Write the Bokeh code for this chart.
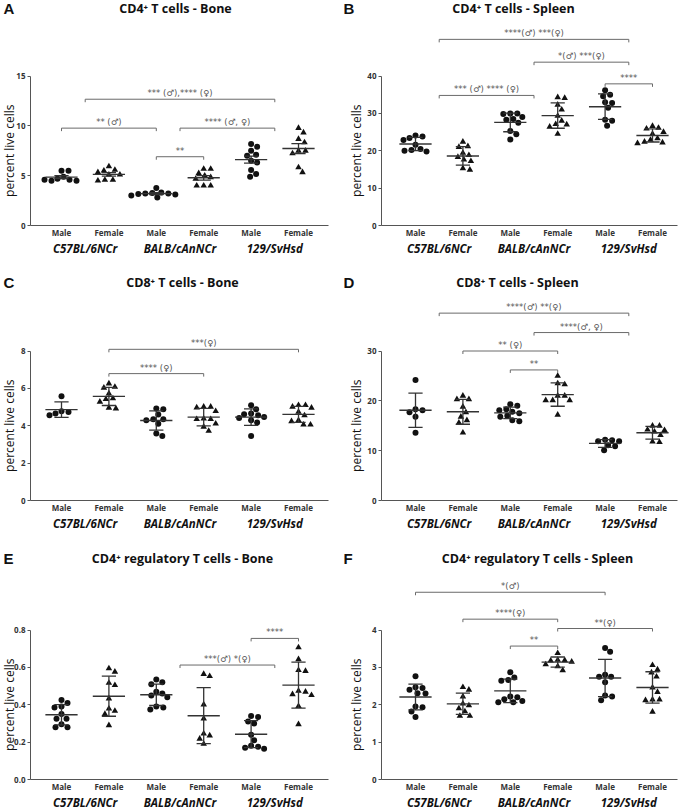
import math
import numpy as np
from bokeh.plotting import figure
from bokeh.models import FixedTicker, Range1d, NumeralTickFormatter
from bokeh.layouts import column, row
from bokeh.embed import file_html
from bokeh.resources import INLINE
from bokeh.core.properties import value

# ---------------- data ----------------
sex_labels = ["Male", "Female", "Male", "Female", "Male", "Female"]
strain_labels = ["C57BL/6NCr", "BALB/cAnNCr", "129/SvHsd"]
strain_pos = [1.5, 3.5, 5.5]
y_title = "percent live cells"

A_title = "CD4\u207a T cells - Bone"
A_ticks = [0, 5, 10, 15]
A_values = [
    [5.5, 5.5, 4.9, 4.7, 4.6, 4.5, 4.5, 4.6],
    [5.93, 5.57, 5.5, 5.33, 5.1, 5.1, 4.57, 4.57, 4.5],
    [3.77, 3.3, 3.25, 3.2, 3.2, 3.15, 3.1, 3.0, 2.8],
    [5.67, 5.67, 5.23, 5.0, 4.83, 4.67, 4.0, 4.0, 4.0],
    [8.17, 7.9, 7.5, 7.1, 7.0, 6.5, 6.33, 5.57, 5.17, 4.9],
    [9.77, 9.33, 8.67, 8.33, 7.5, 7.5, 7.23, 5.83, 5.33],
]
A_brackets = [(1.5, 5.5, 12.67, "*** (\u2642),**** (\u2640)"),
              (1, 3, 9.77, "** (\u2642)"),
              (3.5, 5.5, 9.77, "**** (\u2642, \u2640)"),
              (3, 4, 6.9, "**")]

B_title = "CD4\u207a T cells - Spleen"
B_ticks = [0, 10, 20, 30, 40]
B_values = [
    [24.1, 23.8, 23.4, 22.9, 21.6, 20.5, 20.2, 19.8, 20.0],
    [22.4, 21.2, 21.0, 19.4, 18.8, 18.3, 17.6, 17.2, 15.3, 14.9],
    [30.0, 30.0, 29.8, 29.0, 28.5, 28.3, 27.5, 25.3, 24.4, 23.0],
    [34.3, 34.1, 32.3, 31.0, 29.3, 28.0, 27.1, 27.0, 26.4, 24.5],
    [36.2, 35.0, 34.6, 33.0, 32.8, 31.5, 28.3, 28.0, 26.7],
    [26.6, 26.1, 25.9, 25.0, 24.5, 23.3, 22.9, 22.4, 22.2, 22.0],
]
B_brackets = [(1.5, 5.5, 49.8, "****(\u2642) ***(\u2640)"),
              (3.5, 5.5, 43.7, "*(\u2642) ***(\u2640)"),
              (1.5, 3.5, 34.8, "*** (\u2642) **** (\u2640)"),
              (5, 6, 37.9, "****")]

C_title = "CD8\u207a T cells - Bone"
C_ticks = [0, 2, 4, 6, 8]
C_values = [
    [5.58, 4.78, 4.74, 4.65, 4.56],
    [6.26, 6.08, 6.03, 5.72, 5.46, 5.42, 5.28, 4.96, 4.92],
    [4.92, 4.88, 4.6, 4.35, 4.35, 4.3, 4.11, 3.58, 3.45],
    [5.01, 5.01, 4.97, 4.78, 4.38, 4.35, 4.35, 4.11, 3.94, 3.72],
    [5.1, 4.88, 4.65, 4.62, 4.56, 4.47, 4.42, 4.29, 4.17, 3.45],
    [5.1, 5.1, 5.01, 4.96, 4.74, 4.55, 4.29, 4.24, 4.06, 4.06],
]
C_brackets = [(2, 6, 8.09, "***(\u2640)"),
              (2, 4, 6.79, "**** (\u2640)")]

D_title = "CD8\u207a T cells - Spleen"
D_ticks = [0, 10, 20, 30]
D_values = [
    [24.2, 18.3, 18.1, 17.7, 16.8, 13.6],
    [21.0, 20.3, 20.3, 18.8, 17.7, 16.8, 16.1, 15.6, 13.6],
    [19.3, 19.0, 18.3, 18.1, 17.8, 17.5, 17.0, 16.8, 16.1, 15.9],
    [25.0, 23.5, 23.3, 21.0, 21.0, 20.1, 20.1, 20.1, 17.2],
    [12.2, 12.1, 11.9, 11.9, 11.1, 10.9, 10.1],
    [15.0, 15.0, 14.2, 14.1, 13.8, 13.1, 11.8, 11.7],
]
D_brackets = [(1.5, 5.5, 37.6, "****(\u2642) **(\u2640)"),
              (3.5, 5.5, 33.7, "****(\u2642, \u2640)"),
              (2, 4, 30.0, "** (\u2640)"),
              (3, 4, 26.2, "**")]

E_title = "CD4\u207a regulatory T cells - Bone"
E_ticks = [0.0, 0.2, 0.4, 0.6, 0.8]
E_values = [
    [0.425, 0.41, 0.39, 0.385, 0.35, 0.325, 0.325, 0.295, 0.28, 0.28],
    [0.594, 0.576, 0.517, 0.505, 0.433, 0.379, 0.367, 0.35, 0.29],
    [0.535, 0.52, 0.51, 0.47, 0.46, 0.45, 0.44, 0.39, 0.385, 0.375],
    [0.564, 0.553, 0.401, 0.326, 0.245, 0.235, 0.218, 0.19],
    [0.34, 0.335, 0.31, 0.3, 0.24, 0.21, 0.18, 0.175, 0.17, 0.165],
    [0.707, 0.643, 0.585, 0.58, 0.474, 0.469, 0.456, 0.451, 0.392, 0.295],
]
E_brackets = [(5, 6, 0.755, "****"),
              (3.5, 5.5, 0.6125, "***(\u2642) *(\u2640)")]

F_title = "CD4\u207a regulatory T cells - Spleen"
F_ticks = [0, 1, 2, 3, 4]
F_values = [
    [2.76, 2.47, 2.45, 2.4, 2.31, 2.3, 1.95, 1.93, 1.82, 1.67],
    [2.47, 2.4, 2.22, 2.03, 1.98, 1.9, 1.82, 1.7, 1.7],
    [2.87, 2.73, 2.66, 2.64, 2.22, 2.2, 2.15, 2.1, 2.07, 2.07],
    [3.38, 3.2, 3.19, 3.18, 3.15, 3.08, 3.03, 2.92],
    [3.52, 3.42, 2.8, 2.75, 2.75, 2.6, 2.25, 2.22, 2.12],
    [3.06, 2.94, 2.86, 2.75, 2.46, 2.34, 2.14, 2.14, 2.12, 1.81],
]
F_brackets = [(1, 5, 5.01, "*(\u2642)"),
              (2, 4, 4.29, "****(\u2640)"),
              (4, 6, 4.04, "**(\u2640)"),
              (3, 4, 3.57, "**")]

# ---------------- layout (pixels) ----------------
# column: figure width, x of group 1, y-axis x, x-axis end, y-title x, letter x
COLS = [dict(w=342, g1=61, yax=30, xend=328, ylab=9, let=3),
        dict(w=343, g1=73, yax=39, xend=335, ylab=14, let=1)]
# row: figure top, height, zero line y (page), title y (page)
ROWS = [dict(top=0, h=268, zero=225, ty=8),
        dict(top=268, h=272, zero=500, ty=282),
        dict(top=540, h=270, zero=779, ty=558)]
STEP = 47.4
TICK_SPAN = 149.5
FONT = "Open Sans"
SYMFONT = "DejaVu Sans"


def swarm(vals, ppu_y, ppu_x, d=6.2):
    placed = []
    out = []
    for v in vals:
        y = v * ppu_y
        best = 0
        for k in range(0, 80):
            cands = [0] if k == 0 else [k, -k]
            found = None
            for s in cands:
                if all((s - px) ** 2 + (y - py) ** 2 >= d * d for px, py in placed):
                    found = s
                    break
            if found is not None:
                best = found
                break
        placed.append((best, y))
        out.append(best / ppu_x)
    return out


def make_panel(letter, title, title_px, ticks, values, err_kind, brackets, ci, ri, fmt="0"):
    C = COLS[ci]
    R = ROWS[ri]
    tmax = ticks[-1]
    ppu_y = TICK_SPAN / tmax
    ppu_x = STEP
    xs0 = 1 - C["g1"] / ppu_x
    xs1 = xs0 + C["w"] / ppu_x
    ys0 = -(R["top"] + R["h"] - R["zero"]) / ppu_y
    ys1 = (R["zero"] - R["top"]) / ppu_y

    def xd(px):
        return xs0 + px / ppu_x

    def yd(page_y):
        return (R["zero"] - page_y) / ppu_y

    p = figure(width=C["w"], height=R["h"], x_range=Range1d(xs0, xs1), y_range=Range1d(ys0, ys1),
               output_backend="svg", toolbar_location=None, title_location=None,
               min_border=0, min_border_left=0, min_border_right=0,
               min_border_top=0, min_border_bottom=0)
    p.outline_line_color = None
    p.grid.visible = False
    p.background_fill_color = "white"
    p.border_fill_color = "white"

    # y axis, drawn at the left end of the x axis
    ya = p.yaxis[0]
    ya.fixed_location = xd(C["yax"])
    ya.ticker = FixedTicker(ticks=ticks)
    ya.bounds = (0, tmax)
    ya.formatter = NumeralTickFormatter(format=fmt)
    ya.major_tick_out = 3
    ya.major_tick_in = 0
    ya.minor_tick_out = 0
    ya.minor_tick_line_color = None
    ya.axis_line_color = "#555555"
    ya.major_tick_line_color = "#555555"
    ya.major_label_text_font = FONT
    ya.major_label_text_font_size = "8px"
    ya.major_label_text_font_style = "bold"
    ya.major_label_text_color = "#333333"
    ya.major_label_standoff = 2

    # x axis at zero
    xa = p.xaxis[0]
    xa.fixed_location = 0
    xa.bounds = (xd(C["yax"]), xd(C["xend"]))
    xa.ticker = FixedTicker(ticks=[1, 2, 3, 4, 5, 6])
    xa.major_label_overrides = {i + 1: s for i, s in enumerate(sex_labels)}
    xa.major_tick_out = 0
    xa.major_tick_in = 0
    xa.minor_tick_out = 0
    xa.minor_tick_line_color = None
    xa.axis_line_color = "#555555"
    xa.major_label_text_font = FONT
    xa.major_label_text_font_size = "8px"
    xa.major_label_text_font_style = "bold"
    xa.major_label_text_color = "#333333"
    xa.major_label_standoff = 1

    # strain names
    p.text(x=strain_pos, y=[yd(R["zero"] + 23)] * 3, text=strain_labels, text_align="center",
           text_baseline="middle", text_font=value(FONT), text_font_size="11.5px",
           text_font_style="bold italic", text_color="#111111")

    # points, means, error bars
    for gi, vals in enumerate(values):
        xc = gi + 1
        offs = swarm(vals, ppu_y, ppu_x)
        xpts = [xc + o for o in offs]
        if gi % 2 == 0:
            p.scatter(xpts, vals, marker="circle", size=6, fill_color="#111111", line_color=None)
        else:
            p.scatter(xpts, vals, marker="triangle", size=6.5, fill_color="#111111", line_color=None)
        arr = np.array(vals)
        m = float(arr.mean())
        sd = float(arr.std(ddof=1))
        e = sd / math.sqrt(len(arr)) if err_kind == "sem" else sd
        p.segment(x0=[xc - 0.34], y0=[m], x1=[xc + 0.34], y1=[m], line_color="#333333", line_width=1.4)
        p.segment(x0=[xc, xc - 0.15, xc - 0.15], y0=[m - e, m + e, m - e],
                  x1=[xc, xc + 0.15, xc + 0.15], y1=[m + e, m + e, m - e],
                  line_color="#333333", line_width=1.3)

    # significance brackets
    drop = 3.0 / ppu_y
    for g1, g2, yb, txt in brackets:
        p.segment(x0=[g1, g1, g2], y0=[yb, yb - drop, yb - drop], x1=[g2, g1, g2], y1=[yb, yb, yb],
                  line_color="#6a6a6a", line_width=1)
        p.text(x=[(g1 + g2) / 2], y=[yb], text=[txt], text_align="center", text_baseline="bottom",
               y_offset=-1, text_font=value(SYMFONT), text_font_size="8.5px", text_color="#555555")

    # title, panel letter, y-axis title
    p.text(x=[xd(title_px)], y=[yd(R["ty"])], text=[title], text_align="center",
           text_baseline="middle", text_font=value(FONT), text_font_size="12.5px",
           text_font_style="bold", text_color="#111111")
    p.text(x=[xd(C["let"])], y=[yd(R["ty"])], text=[letter], text_align="left",
           text_baseline="middle", text_font=value("Liberation Sans"), text_font_size="15px",
           text_font_style="bold", text_color="#111111")
    p.text(x=[xd(C["ylab"])], y=[tmax / 2], text=[y_title], angle=math.pi / 2,
           text_align="center", text_baseline="middle", text_font=value(FONT),
           text_font_size="12px", text_color="#111111")
    return p


pA = make_panel("A", A_title, 175, A_ticks, A_values, "sem", A_brackets, 0, 0)
pB = make_panel("B", B_title, 171, B_ticks, B_values, "sd", B_brackets, 1, 0)
pC = make_panel("C", C_title, 182, C_ticks, C_values, "sd", C_brackets, 0, 1)
pD = make_panel("D", D_title, 175, D_ticks, D_values, "sd", D_brackets, 1, 1)
pE = make_panel("E", E_title, 182, E_ticks, E_values, "sd", E_brackets, 0, 2, fmt="0.0")
pF = make_panel("F", F_title, 195, F_ticks, F_values, "sd", F_brackets, 1, 2)

layout = column(row(pA, pB), row(pC, pD), row(pE, pF))
open("out.html", "w").write(file_html(layout, INLINE))
